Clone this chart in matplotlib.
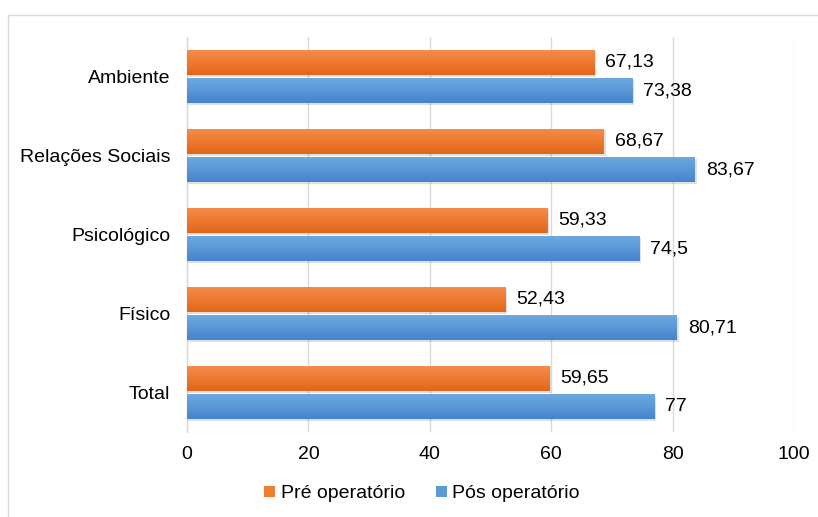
import matplotlib
matplotlib.use("Agg")
import matplotlib.pyplot as plt
import numpy as np
from matplotlib.patches import Rectangle, Patch
from matplotlib.colors import LinearSegmentedColormap

plt.rcParams['font.family'] = ['Liberation Sans', 'DejaVu Sans']

categories = ["Ambiente", "Relações Sociais", "Psicológico", "Físico", "Total"]
pre_values = [67.13, 68.67, 59.33, 52.43, 59.65]
pos_values = [73.38, 83.67, 74.5, 80.71, 77]
pre_labels = ["67,13", "68,67", "59,33", "52,43", "59,65"]
pos_labels = ["73,38", "83,67", "74,5", "80,71", "77"]
series_names = ["Pré operatório", "Pós operatório"]
xticks = [0, 20, 40, 60, 80, 100]

fig = plt.figure(figsize=(8.18, 5.17), dpi=100)
ax = fig.add_axes([187/818, 1-432/517, (794-187)/818, (432-37)/517])

fig.patches.append(Rectangle((8/818, -0.01), 1.0, 1-15/517+0.01, transform=fig.transFigure,
                             fill=False, edgecolor='#D9D9D9', linewidth=1.0))

n = len(categories)
y = np.arange(n)[::-1]
h = 0.32
off = 0.18

cmap_o = LinearSegmentedColormap.from_list('o', ['#F58D4E', '#EE7A30', '#E0661A'])
cmap_b = LinearSegmentedColormap.from_list('b', ['#6EAAE2', '#5A98D8', '#4684CC'])

def grad_bar(xv, yc, cmap, base):
    ax.add_patch(Rectangle((0, yc - h/2 - 0.02), xv + 0.3, h, facecolor='#000000', alpha=0.12,
                           edgecolor='none', zorder=2))
    bars = ax.barh([yc], [xv], height=h, color=base, edgecolor='none', zorder=3)
    r = bars[0]
    grad = np.linspace(0, 1, 64).reshape(-1, 1)
    im = ax.imshow(grad, cmap=cmap, aspect='auto', origin='upper',
                   extent=[0, xv, yc - h/2, yc + h/2], zorder=3.5, interpolation='bicubic')
    im.set_clip_path(r)

fs = 14
for i in range(n):
    grad_bar(pre_values[i], y[i] + off, cmap_o, '#ED7D31')
    grad_bar(pos_values[i], y[i] - off, cmap_b, '#5B9BD5')
    ax.text(pre_values[i] + 1.8, y[i] + off, pre_labels[i], va='center', ha='left', fontsize=fs,
            color='#000000', zorder=5)
    ax.text(pos_values[i] + 1.8, y[i] - off, pos_labels[i], va='center', ha='left', fontsize=fs,
            color='#000000', zorder=5)

ax.set_xlim(0, 100)
ax.set_ylim(-0.5, n - 0.5)
ax.set_xticks(xticks)
ax.set_xticklabels([str(t) for t in xticks], fontsize=fs)
ax.set_yticks(y)
ax.set_yticklabels(categories, fontsize=fs)
ax.tick_params(axis='y', length=0, pad=12)
ax.tick_params(axis='x', length=0, pad=10)
ax.xaxis.grid(True, color='#D9D9D9', linewidth=1.0, zorder=0)
ax.set_axisbelow(True)
for s in ['top', 'right', 'bottom']:
    ax.spines[s].set_visible(False)
ax.spines['left'].set_color('#D9D9D9')
ax.spines['left'].set_linewidth(1.0)

handles = [Patch(facecolor='#ED7D31', edgecolor='none'), Patch(facecolor='#5B9BD5', edgecolor='none')]
fig.legend(handles, series_names, loc='center', bbox_to_anchor=(422/818, 1-494/517), ncol=2,
           frameon=False, fontsize=fs, handlelength=0.55, handleheight=0.55, handletextpad=0.3,
           columnspacing=1.6)

fig.savefig('out.png', dpi=100)
